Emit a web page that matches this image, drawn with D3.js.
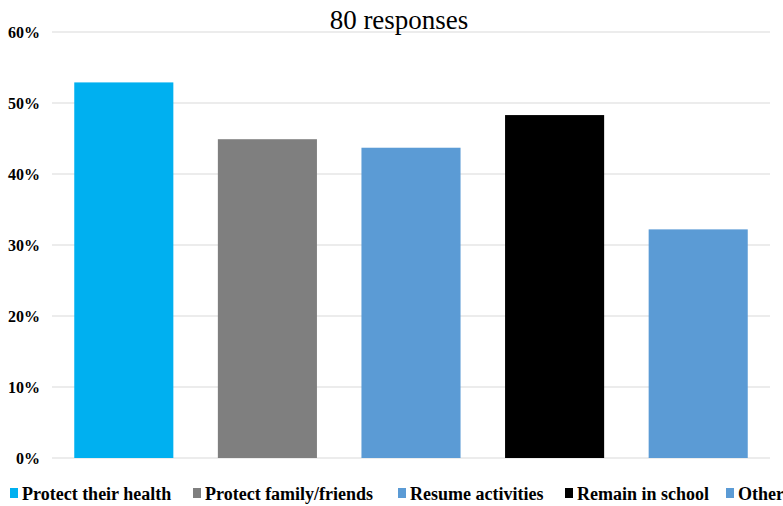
<!DOCTYPE html>
<html><head><meta charset="utf-8">
<script src="https://cdn.jsdelivr.net/npm/d3@7"></script>
<style>body{margin:0;background:#fff}svg{display:block}</style>
</head><body>
<svg id="c" width="783" height="506"></svg>
<script>
const categories = ["Protect their health","Protect family/friends","Resume activities","Remain in school","Other"];
const values = [52.9, 44.9, 43.7, 48.3, 32.2];
const colors = ["#00b0f0","#7f7f7f","#5b9bd5","#000000","#5b9bd5"];
const tickValues = [0,10,20,30,40,50,60];
const titleText = "Reasons for vaccination: check all that apply";
const subtitleText = "80 responses";

const svg = d3.select("#c");
const m = {left:52, right:13, top:32, bottom:48};
const W = 783, H = 506;
const x = d3.scaleBand().domain(categories).range([m.left, W - m.right]).paddingInner(0.31).paddingOuter(0.155);
const y = d3.scaleLinear().domain([0,60]).range([H - m.bottom, m.top]);

// gridlines
svg.append("g").selectAll("line").data(tickValues).join("line")
  .attr("x1", m.left).attr("x2", W - m.right)
  .attr("y1", d => y(d)).attr("y2", d => y(d))
  .attr("stroke", "#d9d9d9").attr("stroke-width", 1.2);

// y axis labels
const ya = svg.append("g").attr("transform", `translate(${m.left},0)`)
  .call(d3.axisLeft(y).tickValues(tickValues).tickFormat(d => d + "%").tickSize(0).tickPadding(12));
ya.select(".domain").remove();
ya.selectAll("text").attr("font-family","Liberation Serif").attr("font-weight","bold").attr("font-size",16).attr("fill","#000");

// bars
svg.append("g").selectAll("rect").data(categories).join("rect")
  .attr("x", d => x(d)).attr("width", x.bandwidth())
  .attr("y", (d,i) => y(values[i])).attr("height", (d,i) => y(0) - y(values[i]))
  .attr("fill", (d,i) => colors[i]);

// title (clipped at top in the reference)
svg.append("text").attr("x", 606).attr("y", -5).attr("text-anchor","end")
  .attr("font-family","Liberation Serif").attr("font-weight","bold").attr("font-size",26)
  .text(titleText);
svg.append("text").attr("x", 399).attr("y", 29).attr("text-anchor","middle")
  .attr("font-family","Liberation Serif").attr("font-size",27).attr("fill","#000")
  .text(subtitleText);

// legend
const legendX = [10, 193, 398, 565, 726];
const lg = svg.append("g").selectAll("g").data(categories).join("g")
  .attr("transform", (d,i) => `translate(${legendX[i]},${494})`);
lg.append("rect").attr("x",0).attr("y",-6).attr("width",8).attr("height",10).attr("fill",(d,i)=>colors[i]);
lg.append("text").attr("x",12).attr("y",0).attr("dy","0.35em")
  .attr("font-family","Liberation Serif").attr("font-weight","bold").attr("font-size",18)
  .attr("fill","#000").text(d => d);
</script>
</body></html>
